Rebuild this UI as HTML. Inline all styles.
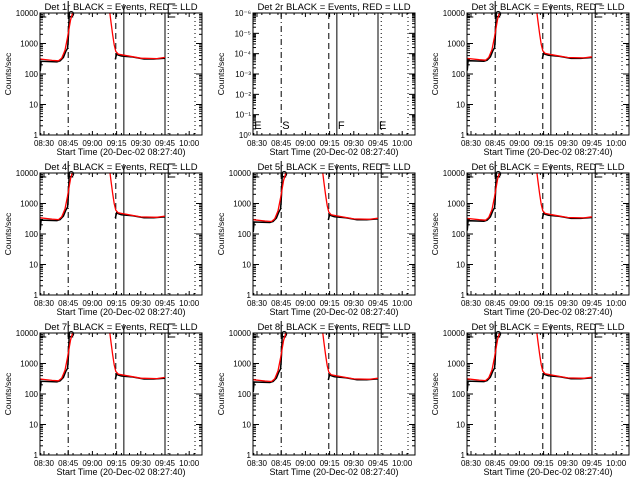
<!DOCTYPE html>
<html><head><meta charset="utf-8"><title>Detector rates</title>
<style>
html,body{margin:0;padding:0;background:#fff;}
svg{display:block;font-family:"Liberation Sans",sans-serif;}
</style></head>
<body>
<svg id="chart" width="640" height="480" viewBox="0 0 640 480"></svg>
<script>
// Data: time in minutes after 08:30, counts/sec (null = gap)
const blackT = [-2.4,-2.3,-1.8,8,10,12,13.5,14.6,15.2,16,30,44.2,45,46,48,55,62,68,75];
const blackV = [130,130,260,250,270,350,550,700,2000,30000,null,300,450,420,390,360,310,310,330];
const redT = [-2.5,5,9,11,13,14.5,15.5,16.5,17.5,18.5,40.5,41.5,42.5,43.5,44.5,46,50,60,70,75];
const redV = [310,280,270,330,600,1500,3000,6000,9000,14000,14000,5000,2000,900,550,450,410,330,320,350];
const detScale = [1,0,1.05,1.1,0.95,1.05,1,0.95,1.02];
const markerT = [15,44.5,49.5,75,77,93.6];
const markerDash = ["6,3,1,3","6,4","","","1,3","1,3"];
const xTickLabels = ["08:30","08:45","09:00","09:15","09:30","09:45","10:00"];
const xTickT = [0,15,30,45,60,75,90];
const yTickLabels = ["1","10","100","1000","10000"];
const yTickV = [1,10,100,1000,10000];
const det2Labels = ["10\u2070","10\u207B\u00B9","10\u207B\u00B2","10\u207B\u00B3","10\u207B\u2074","10\u207B\u2075","10\u207B\u2076"];

const NS="http://www.w3.org/2000/svg";
const svg=document.getElementById('chart');
function mk(tag,attrs,parent){const e=document.createElementNS(NS,tag);for(const k in attrs)e.setAttribute(k,attrs[k]);(parent||svg).appendChild(e);return e;}

const BX0=40,BX1=202,BY0=13,BY1=135;
for(let r=0;r<3;r++)for(let c=0;c<3;c++){
  const idx=r*3+c, det=idx+1;
  const ox=Math.round(c*213.33), oy=r*160;
  const g=mk('g',{transform:`translate(${ox},${oy})`});
  
  
  const xs=t=>BX0+4+t*24.2/15;
  const isEmpty=(det===2);
  const ys=v=>{ if(isEmpty){return BY1-(Math.log10(v)+6)/6*(BY1-BY0);} return BY1-Math.log10(v)/4*(BY1-BY0);};
  const cp=mk('clipPath',{id:'cp'+det},g);
  mk('rect',{x:BX0,y:BY0,width:BX1-BX0,height:BY1-BY0},cp);
  const tt=mk('text',{x:121,y:10,'font-size':9.5,'text-anchor':'middle',fill:'#000'},g);
  tt.textContent=`Det ${det}r BLACK = Events, RED = LLD`;
  
  
  for(let t=-2;t<=100;t+=5){const x=xs(t);if(x<BX0||x>BX1)continue;
    mk('line',{x1:x,y1:BY1,x2:x,y2:BY1-2,stroke:'#000'},g);
    mk('line',{x1:x,y1:BY0,x2:x,y2:BY0+2,stroke:'#000'},g);}
  xTickT.forEach((t,i)=>{
    const x=xs(t);
    mk('line',{x1:x,y1:BY1,x2:x,y2:BY1-4,stroke:'#000'},g);
    mk('line',{x1:x,y1:BY0,x2:x,y2:BY0+4,stroke:'#000'},g);
    const l=mk('text',{x:x,y:BY1+11,'font-size':8,'text-anchor':'middle'},g);
    l.textContent=xTickLabels[i];
    
    
  });
  const xl=mk('text',{x:121,y:BY1+20,'font-size':9,'text-anchor':'middle'},g);
  xl.textContent='Start Time (20-Dec-02 08:27:40)';
  
  
  const yl=mk('text',{x:0,y:0,'font-size':8.5,'text-anchor':'middle',transform:`translate(11,74) rotate(-90)`},g);
  yl.textContent='Counts/sec';
  
  
  if(isEmpty){
    det2Labels.forEach((lab,i)=>{
      const y=BY1-i/6*(BY1-BY0);
      mk('line',{x1:BX0,y1:y,x2:BX0+6,y2:y,stroke:'#000'},g);
      mk('line',{x1:BX1,y1:y,x2:BX1-6,y2:y,stroke:'#000'},g);
      if(i<6)for(let m=2;m<10;m++){const yy=y-Math.log10(m)/6*(BY1-BY0);
        mk('line',{x1:BX0,y1:yy,x2:BX0+3,y2:yy,stroke:'#000'},g);
        mk('line',{x1:BX1,y1:yy,x2:BX1-3,y2:yy,stroke:'#000'},g);}
      const l=mk('text',{x:BX0-2,y:y+3,'font-size':8,'text-anchor':'end'},g);
      l.textContent=lab;
      
      
    });
  } else {
    yTickV.forEach((v,i)=>{
      const y=ys(v);
      mk('line',{x1:BX0,y1:y,x2:BX0+6,y2:y,stroke:'#000'},g);
      mk('line',{x1:BX1,y1:y,x2:BX1-6,y2:y,stroke:'#000'},g);
      if(i<4)for(let m=2;m<10;m++){const yy=ys(v*m);
        mk('line',{x1:BX0,y1:yy,x2:BX0+3,y2:yy,stroke:'#000'},g);
        mk('line',{x1:BX1,y1:yy,x2:BX1-3,y2:yy,stroke:'#000'},g);}
      const l=mk('text',{x:BX0-2,y:y+3,'font-size':8,'text-anchor':'end'},g);
      l.textContent=yTickLabels[i];
      
      
    });
  }
  markerT.forEach((t,i)=>{
    const x=xs(t);
    const a={x1:x,y1:BY0,x2:x,y2:BY1,stroke:'#000','stroke-width':1};
    if(markerDash[i])a['stroke-dasharray']=markerDash[i];
    const ln=mk('line',a,g);
    
    
  });
  if(isEmpty){
    const labs=["E","S","F","E"],lt=[-2.3,15,49.5,75];
    labs.forEach((s,i)=>{const tx=mk('text',{x:xs(lt[i])+1,y:BY1-6,'font-size':11},g);tx.textContent=s;
      
      });
  } else {
    const br=[[xs(-2.3),BY0,BY0+4,6],[xs(15),1,BY0+4,5],[xs(49.5),4,BY0,0],[xs(77),4,BY0+4,7]];
    br.forEach(b=>{mk('line',{x1:b[0],y1:b[1],x2:b[0],y2:b[2],stroke:'#000'},g);
      if(b[3])mk('line',{x1:b[0],y1:b[2],x2:b[0]+b[3],y2:b[2],stroke:'#000'},g);});
    mk('line',{x1:xs(77),y1:4,x2:xs(77)+7,y2:4,stroke:'#000'},g);
    mk('circle',{cx:xs(15)+3,cy:BY0+1,r:2.5,fill:'none',stroke:'#000'},g);
    const sc=detScale[idx];
    const pathOf=(T,V)=>{let d='',pen=false;T.forEach((t,i)=>{
      if(V[i]===null){pen=false;return;}
      d+=`${pen?'L':'M'}${xs(t).toFixed(1)},${ys(V[i]*sc).toFixed(1)}`;pen=true;});return d;};
    const bp=mk('path',{d:pathOf(blackT,blackV),fill:'none',stroke:'#000','stroke-width':1.5,'clip-path':`url(#cp${det})`},g);
    
    
    const rp=mk('path',{d:pathOf(redT,redV),fill:'none',stroke:'#ff0000','stroke-width':1.3,'clip-path':`url(#cp${det})`},g);
    
    
  }
  const box=mk('rect',{x:BX0,y:BY0,width:BX1-BX0,height:BY1-BY0,fill:'none',stroke:'#000','stroke-width':1},g);
  
  
}
</script>
</body></html>
